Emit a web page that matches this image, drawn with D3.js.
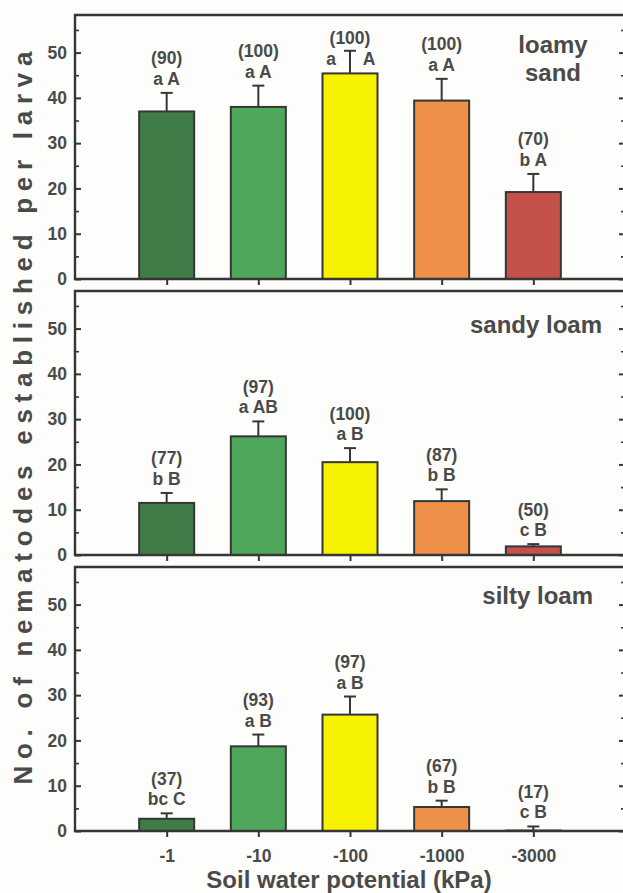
<!DOCTYPE html>
<html>
<head>
<meta charset="utf-8">
<script src="https://cdn.jsdelivr.net/npm/d3@7"></script>
<style>
  html, body { margin: 0; padding: 0; background: #fdfdfb; }
  svg { display: block; }
  text { font-family: "Liberation Sans", Arial, sans-serif; font-weight: bold; fill: #4a4a4a; }
</style>
</head>
<body>
<svg id="chart" width="623" height="893"></svg>
<script>
// ---- data ----
const categories = ["-1", "-10", "-100", "-1000", "-3000"];
const soils = ["loamy sand", "sandy loam", "silty loam"];
const barColors = ["#3f7c48", "#4ea75a", "#f7f200", "#ef9049", "#c4524b"];

const loamySandMeans = [37.0, 38.0, 45.4, 39.4, 19.2];
const loamySandErr   = [4.1, 4.7, 5.0, 4.8, 4.0];
const loamySandPct   = ["(90)", "(100)", "(100)", "(100)", "(70)"];
const loamySandSig   = ["a A", "a A", "a A", "a A", "b A"];

const sandyLoamMeans = [11.5, 26.2, 20.5, 11.9, 1.9];
const sandyLoamErr   = [2.2, 3.3, 3.1, 2.6, 0.5];
const sandyLoamPct   = ["(77)", "(97)", "(100)", "(87)", "(50)"];
const sandyLoamSig   = ["b B", "a AB", "a B", "b B", "c B"];

const siltyLoamMeans = [2.7, 18.7, 25.7, 5.3, 0.1];
const siltyLoamErr   = [1.2, 2.6, 4.0, 1.4, 0.9];
const siltyLoamPct   = ["(37)", "(93)", "(97)", "(67)", "(17)"];
const siltyLoamSig   = ["bc C", "a B", "a B", "b B", "c B"];

const yTicks = [0, 10, 20, 30, 40, 50];
const yMinorTicks = [5, 15, 25, 35, 45, 55];
const yMax = 58.3;

const xTitle = "Soil water potential (kPa)";
const yTitle = "No. of nematodes established per larva";

const panels = [
  { name: soils[0], titleLines: ["loamy", "sand"], means: loamySandMeans, err: loamySandErr, pct: loamySandPct, sig: loamySandSig },
  { name: soils[1], titleLines: ["sandy loam"], means: sandyLoamMeans, err: sandyLoamErr, pct: sandyLoamPct, sig: sandyLoamSig },
  { name: soils[2], titleLines: ["silty loam"], means: siltyLoamMeans, err: siltyLoamErr, pct: siltyLoamPct, sig: siltyLoamSig }
];

// ---- layout ----
const svg = d3.select("#chart");
const left = 75, right = 625;
const panelTop0 = 15, panelH = 264, panelGap = 12;
const axisColor = "#363636";
const lineW = 2.4;

const x = d3.scalePoint().domain(categories).range([left, right]).padding(1);
const barW = x.step() * 0.6;

const titleLayout = [
  { x: 553, anchor: "middle", dy: 38 },
  { x: 602, anchor: "end", dy: 42 },
  { x: 593, anchor: "end", dy: 37 }
];

panels.forEach((p, pi) => {
  const top = panelTop0 + pi * (panelH + panelGap);
  const bottom = top + panelH;
  const y = d3.scaleLinear().domain([0, yMax]).range([bottom, top]);
  const g = svg.append("g");

  // bars
  g.selectAll("rect.bar").data(categories).join("rect")
    .attr("class", "bar")
    .attr("x", d => x(d) - barW / 2)
    .attr("y", (d, i) => y(p.means[i]))
    .attr("width", barW)
    .attr("height", (d, i) => y(0) - y(p.means[i]))
    .attr("fill", (d, i) => barColors[i])
    .attr("stroke", axisColor)
    .attr("stroke-width", 2);

  // error bars (upper only)
  const eb = g.selectAll("g.err").data(categories).join("g").attr("class", "err");
  eb.append("line")
    .attr("x1", d => x(d)).attr("x2", d => x(d))
    .attr("y1", (d, i) => y(p.means[i]))
    .attr("y2", (d, i) => y(p.means[i] + p.err[i]))
    .attr("stroke", axisColor).attr("stroke-width", 2);
  eb.append("line")
    .attr("x1", d => x(d) - 6).attr("x2", d => x(d) + 6)
    .attr("y1", (d, i) => y(p.means[i] + p.err[i]))
    .attr("y2", (d, i) => y(p.means[i] + p.err[i]))
    .attr("stroke", axisColor).attr("stroke-width", 2);

  // labels
  categories.forEach((c, i) => {
    const errTop = y(p.means[i] + p.err[i]);
    let c1 = errTop - 34.5, c2 = errTop - 14;
    let split = false;
    if (c1 < top + 20) { c1 = top + 23; c2 = c1 + 21; split = true; }
    g.append("text").attr("x", x(c)).attr("y", c1 + 6)
      .attr("text-anchor", "middle").attr("font-size", 17.5).text(p.pct[i]);
    if (split) {
      const parts = p.sig[i].split(" ");
      g.append("text").attr("x", x(c) - 19).attr("y", c2 + 6)
        .attr("text-anchor", "middle").attr("font-size", 17.5).text(parts[0]);
      g.append("text").attr("x", x(c) + 19).attr("y", c2 + 6)
        .attr("text-anchor", "middle").attr("font-size", 17.5).text(parts[1]);
    } else {
      g.append("text").attr("x", x(c)).attr("y", c2 + 6)
        .attr("text-anchor", "middle").attr("font-size", 17.5).text(p.sig[i]);
    }
  });

  // left axis (ticks inward)
  const yAxis = d3.axisLeft(y).tickValues(yTicks).tickSizeInner(-6).tickSizeOuter(0).tickPadding(8);
  const ya = g.append("g").attr("transform", `translate(${left},0)`).call(yAxis);
  ya.select(".domain").remove();
  ya.selectAll(".tick line").attr("stroke", axisColor).attr("stroke-width", 2);
  ya.selectAll(".tick text").attr("font-size", 17.5).attr("fill", "#4a4a4a")
    .style("font-family", '"Liberation Sans", Arial, sans-serif').style("font-weight", "bold");
  const yMinor = d3.axisLeft(y).tickValues(yMinorTicks).tickSizeInner(-4).tickSizeOuter(0).tickFormat("");
  const ym = g.append("g").attr("transform", `translate(${left},0)`).call(yMinor);
  ym.select(".domain").remove();
  ym.selectAll(".tick line").attr("stroke", axisColor).attr("stroke-width", 1.6);

  // right axis (ticks inward)
  const yR = d3.axisRight(y).tickValues(yTicks).tickSizeInner(-6).tickSizeOuter(0).tickFormat("");
  const yr = g.append("g").attr("transform", `translate(${right},0)`).call(yR);
  yr.select(".domain").remove();
  yr.selectAll(".tick line").attr("stroke", axisColor).attr("stroke-width", 2);
  const yRm = d3.axisRight(y).tickValues(yMinorTicks).tickSizeInner(-4).tickSizeOuter(0).tickFormat("");
  const yrm = g.append("g").attr("transform", `translate(${right},0)`).call(yRm);
  yrm.select(".domain").remove();
  yrm.selectAll(".tick line").attr("stroke", axisColor).attr("stroke-width", 1.6);

  // bottom axis (ticks outward)
  const xAxis = d3.axisBottom(x).tickSizeInner(6).tickSizeOuter(0).tickPadding(13)
    .tickFormat(pi === panels.length - 1 ? (d => d) : "");
  const xa = g.append("g").attr("transform", `translate(0,${bottom})`).call(xAxis);
  xa.select(".domain").remove();
  xa.selectAll(".tick line").attr("stroke", axisColor).attr("stroke-width", 2);
  xa.selectAll(".tick text").attr("font-size", 17.5).attr("fill", "#4a4a4a")
    .style("font-family", '"Liberation Sans", Arial, sans-serif').style("font-weight", "bold");

  // frame
  g.append("path")
    .attr("d", `M${left},${bottom} L${left},${top} L${right},${top} L${right},${bottom} Z`)
    .attr("fill", "none").attr("stroke", axisColor).attr("stroke-width", lineW);

  // panel title
  const tl = titleLayout[pi];
  p.titleLines.forEach((t, k) => {
    g.append("text").attr("x", tl.x).attr("y", top + tl.dy + k * 28)
      .attr("text-anchor", tl.anchor).attr("font-size", 24).text(t);
  });
});

// axis titles
svg.append("text").attr("x", 349).attr("y", 888)
  .attr("text-anchor", "middle").attr("font-size", 24).text(xTitle);

svg.append("text")
  .attr("transform", "translate(32,418) rotate(-90)")
  .attr("text-anchor", "middle").attr("font-size", 26)
  .attr("textLength", 733).attr("lengthAdjust", "spacing")
  .text(yTitle);
</script>
</body>
</html>
